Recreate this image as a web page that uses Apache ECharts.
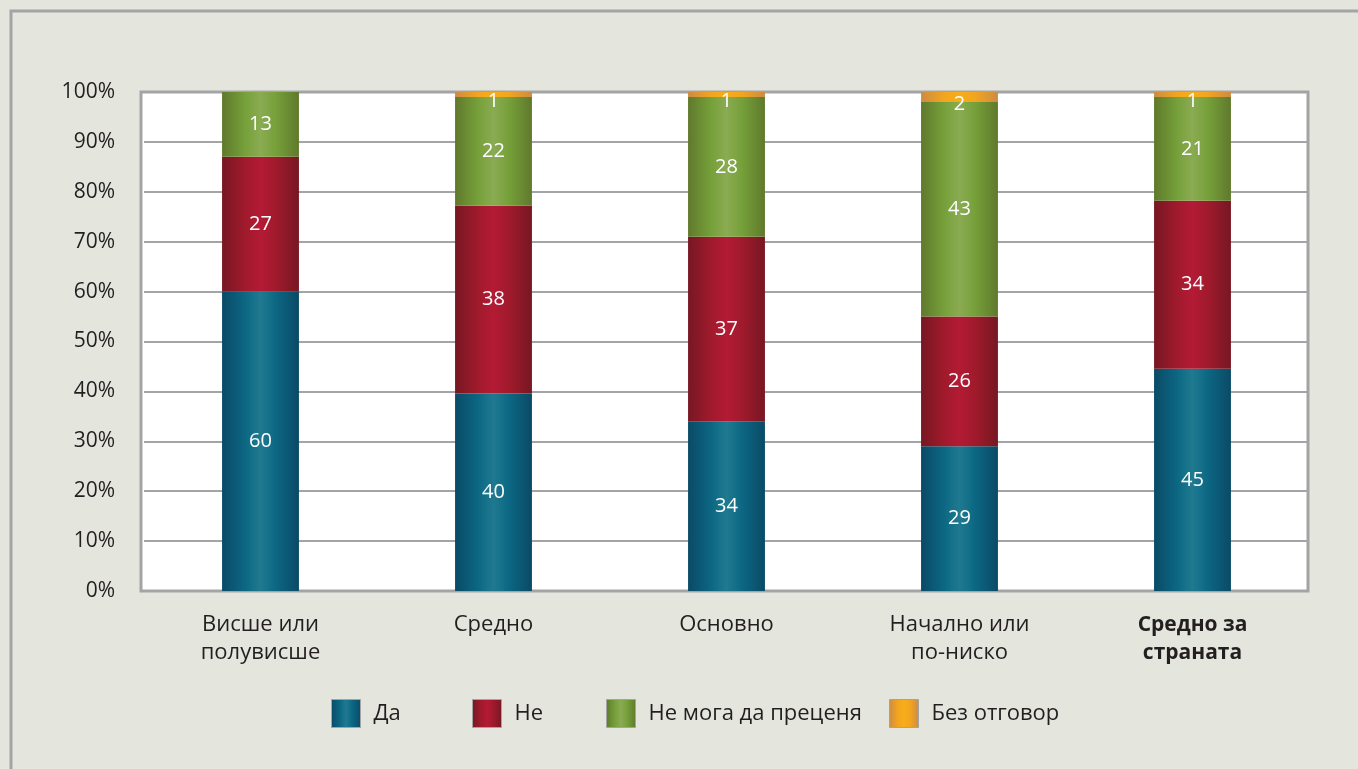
<!DOCTYPE html>
<html>
<head>
<meta charset="utf-8">
<script src="https://cdn.jsdelivr.net/npm/echarts@6/dist/echarts.min.js"></script>
<style>
  html, body { margin: 0; padding: 0; background: #e4e6de; }
  #chart { width: 1358px; height: 769px; }
</style>
</head>
<body>
<div id="chart"></div>
<script>
// категории и стойности
var categories = ['Висше или\nполувисше', 'Средно', 'Основно', 'Начално или\nпо-ниско', 'Средно за\nстраната']
var da = [60, 40, 34, 29, 45]
var ne = [27, 38, 37, 26, 34]
var neMoga = [13, 22, 28, 43, 21]
var bezOtgovor = [0, 1, 1, 2, 1]
var seriesNames = ['Да', 'Не', 'Не мога да преценя', 'Без отговор']
var yTicks = [0, 10, 20, 30, 40, 50, 60, 70, 80, 90, 100]

var raw = [da, ne, neMoga, bezOtgovor]
var totals = categories.map(function (c, i) {
  return raw.reduce(function (s, arr) { return s + arr[i] }, 0)
})

function grad (edge, mid, light) {
  return new echarts.graphic.LinearGradient(0, 0, 1, 0, [
    { offset: 0, color: edge },
    { offset: 0.3, color: mid },
    { offset: 0.5, color: light },
    { offset: 0.7, color: mid },
    { offset: 1, color: edge }
  ])
}
var fills = [
  grad('#0a4a66', '#0c6783', '#1f7a90'),
  grad('#771722', '#a01a2c', '#b41a35'),
  grad('#5f792c', '#76a03a', '#8aab52'),
  grad('#cc8c44', '#f2a51e', '#f7ad1a')
]

var font = '"Open Sans", "Noto Sans", sans-serif'

var series = raw.map(function (arr, k) {
  return {
    name: seriesNames[k],
    type: 'bar',
    stack: 'total',
    barWidth: '33%',
    itemStyle: { color: fills[k] },
    label: {
      show: true,
      position: 'inside',
      offset: k === 3 ? [0, 7] : [0, 0],
      color: '#fff',
      fontFamily: font,
      fontSize: 20,
      formatter: function (p) {
        var v = arr[p.dataIndex]
        return v > 0 ? String(v) : ''
      }
    },
    data: arr.map(function (v, i) { return v / totals[i] * 100 })
  }
})

// легенда - отделен елемент за всяка серия
var legendLeft = [331, 472, 606, 889]
var legends = seriesNames.map(function (n, k) {
  return {
    left: legendLeft[k],
    top: 699,
    padding: 0,
    itemWidth: 29,
    itemHeight: 28,
    itemGap: 0,
    icon: 'rect',
    itemStyle: { borderColor: '#a3a4a6', borderWidth: 1 },
    textStyle: { fontFamily: font, fontSize: 22, color: '#231f20', padding: [0, 0, 0, 8] },
    selectedMode: false,
    data: [n]
  }
})

var chart = echarts.init(document.getElementById('chart'))
chart.setOption({
  backgroundColor: '#e4e6de',
  animation: false,
  graphic: [{
    type: 'rect',
    shape: { x: 11, y: 11, width: 1400, height: 800 },
    style: { fill: 'none', stroke: '#a3a4a6', lineWidth: 3 },
    silent: true
  }, {
    // бял фон и рамка на графиката
    type: 'rect',
    z: -10,
    shape: { x: 141, y: 92, width: 1167, height: 499 },
    style: { fill: '#fff', stroke: '#a3a4a6', lineWidth: 3 },
    silent: true
  }],
  legend: legends,
  grid: {
    left: 144,
    right: 49,
    top: 92,
    bottom: 178
  },
  xAxis: {
    type: 'category',
    data: categories,
    axisLine: { show: false },
    axisTick: { show: false },
    axisLabel: {
      interval: 0,
      margin: 20,
      lineHeight: 28,
      fontFamily: font,
      fontSize: 22,
      color: '#231f20',
      formatter: function (v, i) {
        return i === categories.length - 1 ? '{b|' + v + '}' : v
      },
      rich: {
        b: { fontWeight: 'bold', fontFamily: font, fontSize: 21, lineHeight: 28, color: '#231f20' }
      }
    }
  },
  yAxis: {
    type: 'value',
    min: yTicks[0],
    max: yTicks[yTicks.length - 1],
    interval: 10,
    axisLine: { show: false },
    axisTick: { show: false },
    splitLine: { lineStyle: { color: '#a3a4a6', width: 2 } },
    axisLabel: {
      margin: 29,
      fontFamily: font,
      fontSize: 21,
      color: '#231f20',
      formatter: '{value}%'
    }
  },
  series: series
})
</script>
</body>
</html>
